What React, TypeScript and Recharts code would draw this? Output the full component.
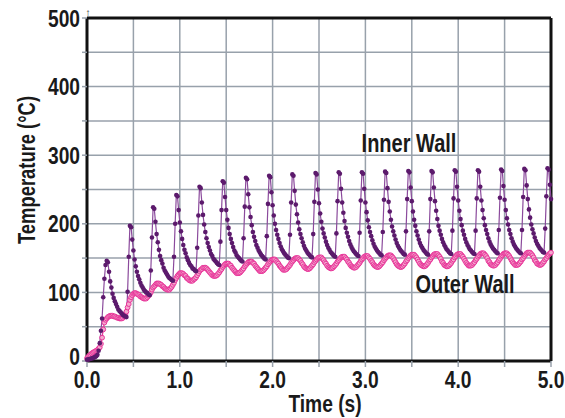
import React from 'react';
import { LineChart, Line, XAxis, YAxis, CartesianGrid, ReferenceLine } from 'recharts';

// samples are 12.5 ms apart, 0 .. 5 s
const SAMPLE_STEP = 0.0125;

const X_TICKS = [0, 0.5, 1, 1.5, 2, 2.5, 3, 3.5, 4, 4.5, 5];
const Y_TICKS = [0, 50, 100, 150, 200, 250, 300, 350, 400, 450, 500];

// inner wall: start-up, then one row per cycle beginning at each peak
const INNER_LEAD = [2, 2, 3, 3, 4, 4, 5, 6, 7, 9, 15, 26, 44, 62, 93, 120, 140];
const INNER_CYCLES = [
  [146, 144, 130, 116, 107, 98, 92, 87, 83, 79, 75, 73, 71, 69, 67, 66, 65, 64, 101, 152],
  [197, 195, 177, 161, 148, 138, 130, 124, 119, 114, 110, 107, 104, 102, 100, 99, 97, 96, 132, 180],
  [224, 222, 203, 185, 173, 162, 153, 147, 142, 136, 132, 129, 126, 123, 121, 120, 118, 117, 152, 200],
  [242, 240, 220, 202, 189, 178, 169, 162, 157, 151, 147, 143, 140, 138, 135, 134, 132, 131, 165, 212],
  [254, 252, 231, 213, 199, 188, 179, 172, 166, 161, 156, 153, 149, 147, 145, 143, 141, 140, 174, 220],
  [262, 260, 239, 220, 206, 194, 185, 178, 172, 166, 161, 158, 154, 152, 150, 148, 146, 145, 179, 225],
  [267, 265, 243, 224, 210, 198, 188, 181, 175, 169, 165, 161, 158, 155, 153, 151, 149, 148, 182, 229],
  [270, 268, 246, 227, 212, 200, 191, 184, 178, 172, 167, 163, 160, 157, 155, 153, 151, 150, 184, 231],
  [272, 270, 248, 228, 214, 202, 192, 185, 179, 173, 168, 164, 161, 158, 156, 154, 152, 151, 185, 232],
  [274, 272, 250, 230, 215, 203, 193, 186, 180, 174, 169, 165, 162, 159, 157, 155, 153, 152, 186, 233],
  [275, 273, 251, 231, 216, 204, 194, 187, 181, 175, 170, 166, 163, 160, 158, 156, 154, 153, 187, 234],
  [275, 273, 251, 231, 217, 205, 195, 188, 182, 176, 171, 167, 164, 161, 159, 157, 155, 154, 188, 235],
  [276, 274, 252, 232, 218, 206, 196, 189, 183, 177, 172, 168, 165, 162, 160, 158, 156, 155, 189, 236],
  [277, 275, 253, 233, 218, 206, 197, 189, 183, 177, 172, 168, 165, 162, 160, 158, 156, 155, 189, 236],
  [277, 275, 253, 233, 219, 207, 197, 190, 184, 178, 173, 169, 166, 163, 161, 159, 157, 156, 190, 237],
  [278, 276, 254, 234, 219, 207, 198, 190, 184, 178, 173, 169, 166, 163, 161, 159, 157, 156, 190, 237],
  [278, 276, 254, 234, 220, 208, 198, 191, 185, 179, 174, 170, 167, 164, 162, 160, 158, 157, 191, 238],
  [279, 277, 255, 235, 220, 208, 199, 191, 185, 179, 174, 170, 167, 164, 162, 160, 158, 157, 191, 239],
  [280, 278, 256, 236, 221, 209, 199, 192, 186, 180, 175, 171, 168, 165, 163, 161, 159, 158, 193, 240],
  [281, 279, 257, 236],
];

// outer wall: start-up, then one row per cycle beginning at each trough
const OUTER_LEAD = [
  4, 6, 8, 9, 11, 12, 13, 14, 15, 16, 18, 20, 25, 34, 46,
  56, 60, 62, 64, 65, 66, 66, 66, 65, 65, 64, 63, 63, 62, 62,
];
const OUTER_CYCLES = [
  [62, 63, 65, 68, 72, 78, 83, 89, 93, 96, 98, 99, 99, 98, 97, 96, 94, 93, 92, 91],
  [91, 91, 93, 95, 97, 100, 104, 107, 109, 111, 113, 113, 113, 112, 111, 109, 108, 106, 105, 104],
  [104, 104, 106, 108, 111, 114, 118, 121, 124, 126, 128, 128, 128, 127, 125, 124, 121, 120, 118, 117],
  [117, 117, 119, 120, 122, 125, 128, 131, 133, 134, 136, 136, 136, 135, 133, 131, 129, 127, 125, 124],
  [124, 124, 125, 127, 129, 132, 134, 137, 139, 141, 142, 142, 142, 140, 139, 136, 134, 132, 130, 128],
  [128, 128, 129, 131, 133, 135, 138, 140, 142, 144, 145, 145, 145, 143, 142, 139, 137, 135, 133, 131],
  [131, 131, 132, 134, 136, 138, 141, 143, 145, 147, 148, 148, 148, 146, 144, 142, 139, 137, 135, 133],
  [133, 133, 134, 136, 138, 140, 143, 145, 147, 149, 150, 150, 150, 148, 146, 143, 141, 138, 136, 135],
  [134, 134, 135, 137, 139, 141, 144, 146, 148, 150, 151, 151, 151, 149, 147, 144, 142, 139, 137, 136],
  [135, 135, 136, 138, 140, 142, 145, 147, 149, 151, 152, 152, 152, 150, 148, 145, 143, 140, 138, 137],
  [136, 136, 137, 139, 141, 143, 146, 148, 150, 152, 153, 153, 153, 151, 149, 146, 144, 141, 139, 138],
  [137, 137, 138, 140, 142, 144, 147, 149, 151, 153, 154, 154, 154, 152, 150, 147, 144, 141, 139, 138],
  [137, 137, 138, 140, 142, 145, 147, 150, 152, 154, 155, 155, 155, 153, 151, 148, 145, 142, 140, 139],
  [138, 138, 139, 141, 143, 146, 148, 151, 153, 155, 156, 156, 156, 154, 152, 149, 145, 143, 140, 139],
  [138, 138, 139, 141, 143, 146, 148, 151, 153, 155, 156, 156, 156, 154, 152, 149, 146, 143, 141, 139],
  [139, 139, 140, 142, 144, 147, 149, 152, 154, 156, 157, 157, 157, 155, 153, 150, 146, 144, 141, 140],
  [139, 139, 140, 142, 144, 147, 149, 152, 154, 156, 157, 157, 157, 155, 153, 150, 147, 144, 142, 140],
  [140, 140, 141, 143, 145, 148, 150, 153, 155, 157, 158, 158, 158, 156, 154, 151, 147, 145, 142, 141],
  [140, 140, 141, 143, 145, 148, 150, 153, 155, 157, 158],
];

const innerValues = [INNER_LEAD, ...INNER_CYCLES].flat();
const outerValues = [OUTER_LEAD, ...OUTER_CYCLES].flat();

const data = innerValues.map((v, i) => ({
  t: +(i * SAMPLE_STEP).toFixed(4),
  inner: v,
  outer: outerValues[i],
}));

const FONT = "'Liberation Sans', Arial, sans-serif";
const GRID = '#98a1ab';
const INK = '#1a1a1a';
const SQUEEZE = 'scale(0.8,1)'; // poor man's condensed face

const InnerDot = (props: any) => {
  const { cx, cy, index } = props;
  if (cx == null || cy == null) return null;
  return <circle key={`i${index}`} cx={cx} cy={cy} r={2.3} fill="#5c1a6c" />;
};

const OuterDot = (props: any) => {
  const { cx, cy, index } = props;
  if (cx == null || cy == null) return null;
  return <circle key={`o${index}`} cx={cx} cy={cy} r={2.4} fill="#f5a6cd" stroke="#e8369a" strokeWidth={1} />;
};

const XTick = ({ x, y, payload }: any) => {
  const v = payload.value;
  if (v % 1 !== 0) return null;
  return (
    <g transform={`translate(${x},${y})`}>
      <text transform={SQUEEZE} textAnchor="middle" dy="0.72em" fontSize={24} fontWeight={700} fontFamily={FONT} fill={INK}>
        {v.toFixed(1)}
      </text>
    </g>
  );
};

const YTick = ({ x, y, payload }: any) => {
  const v = payload.value;
  if (v % 100 !== 0) return null;
  return (
    <g transform={`translate(${x},${v === 0 ? y - 5 : y})`}>
      <text transform={SQUEEZE} textAnchor="end" dy="0.36em" fontSize={24} fontWeight={700} fontFamily={FONT} fill={INK}>
        {v}
      </text>
    </g>
  );
};

export default function App() {
  return (
    <div style={{ position: 'absolute', left: 0, top: 0, width: 565, height: 418 }}>
      <LineChart width={565} height={418} data={data} margin={{ top: 18, right: 14, bottom: 27, left: 27 }}>
        <CartesianGrid stroke={GRID} strokeWidth={1.5} />
        <XAxis
          dataKey="t"
          type="number"
          domain={[0, 5]}
          ticks={X_TICKS}
          height={30}
          interval={0}
          axisLine={{ stroke: '#111', strokeWidth: 3 }}
          tickLine={{ stroke: GRID, strokeWidth: 1.5 }}
          tickSize={6}
          tickMargin={4}
          tick={<XTick />}
        />
        <YAxis
          type="number"
          domain={[0, 500]}
          ticks={Y_TICKS}
          width={60}
          interval={0}
          axisLine={{ stroke: '#111', strokeWidth: 3 }}
          tickLine={{ stroke: GRID, strokeWidth: 1.5 }}
          tickSize={5}
          tickMargin={2}
          tick={<YTick />}
        />
        <ReferenceLine y={500} stroke="#111" strokeWidth={3} />
        <ReferenceLine x={5} stroke="#111" strokeWidth={3} />
        <Line
          type="linear"
          dataKey="outer"
          stroke="#e8369a"
          strokeWidth={1.2}
          dot={<OuterDot />}
          activeDot={false}
          isAnimationActive={false}
        />
        <Line
          type="linear"
          dataKey="inner"
          stroke="#8b4a9c"
          strokeWidth={1.2}
          dot={<InnerDot />}
          activeDot={false}
          isAnimationActive={false}
        />
      </LineChart>
      <svg
        width={565}
        height={418}
        style={{ position: 'absolute', left: 0, top: 0, pointerEvents: 'none' }}
        fontFamily={FONT}
        fontWeight={700}
        fill={INK}
      >
        <g transform="translate(27,170) rotate(-90)">
          <text transform={SQUEEZE} fontSize={23} textAnchor="middle" dominantBaseline="central">
            Temperature (°C)
          </text>
        </g>
        <g transform="translate(325,412)">
          <text transform={SQUEEZE} fontSize={24} textAnchor="middle">
            Time (s)
          </text>
        </g>
        <g transform="translate(409,152)">
          <text transform={SQUEEZE} fontSize={25} textAnchor="middle">
            Inner Wall
          </text>
        </g>
        <g transform="translate(465,293)">
          <text transform={SQUEEZE} fontSize={25} textAnchor="middle">
            Outer Wall
          </text>
        </g>
        <text x={88} y={16} fontSize={10} textAnchor="middle">
          ↑
        </text>
      </svg>
    </div>
  );
}
